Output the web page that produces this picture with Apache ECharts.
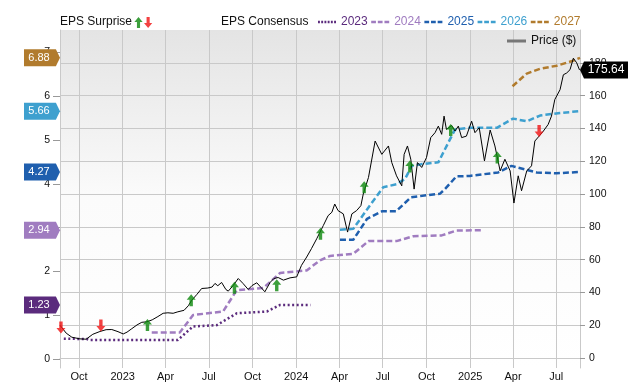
<!DOCTYPE html>
<html>
<head>
<meta charset="utf-8">
<script src="https://cdn.jsdelivr.net/npm/echarts@6/dist/echarts.min.js"></script>
<style>
html,body{margin:0;padding:0;background:#fff;}
#chart{width:640px;height:382px;}
</style>
</head>
<body>
<div id="chart"></div>
<script>
// ---------- data ----------
const xRange = ['2022-08-22', '2025-08-20'];
const tickDates = ['2022-10-01','2023-01-01','2023-04-01','2023-07-01','2023-10-01','2024-01-01','2024-04-01','2024-07-01','2024-10-01','2025-01-01','2025-04-01','2025-07-01'];
const epsTicks = [0, 1, 2, 3, 4, 5, 6, 7];
const priceTicks = [0, 20, 40, 60, 80, 100, 120, 140, 160, 180];
const epsRange = [-0.211, 7.516];
const priceRange = [-6.06, 200];

const price = [
 ['2022-08-22',20.0],['2022-09-04',15.2],['2022-09-16',12.7],['2022-10-03',11.7],['2022-10-16',11.5],
 ['2022-10-30',14.5],['2022-11-14',16.2],['2022-11-27',17.3],['2022-12-09',17.4],['2022-12-22',16.1],
 ['2023-01-02',14.7],['2023-01-10',15.8],['2023-01-20',17.9],['2023-01-31',20.2],['2023-02-10',21.8],
 ['2023-02-21',22.1],['2023-03-04',23.3],['2023-03-16',25.3],['2023-03-27',27.3],['2023-04-06',27.6],
 ['2023-04-17',27.3],['2023-04-27',28.2],['2023-05-10',29.1],['2023-05-19',31.9],['2023-05-26',35.2],
 ['2023-06-06',38.8],['2023-06-16',42.4],['2023-06-29',42.7],['2023-07-08',43.3],['2023-07-14',45.5],
 ['2023-07-20',44.1],['2023-07-28',46.1],['2023-08-06',41.8],['2023-08-11',40.8],['2023-08-21',44.1],
 ['2023-09-01',48.5],['2023-09-11',45.5],['2023-09-22',41.8],['2023-09-30',44.2],['2023-10-10',45.9],
 ['2023-10-19',43.0],['2023-10-27',40.4],['2023-11-07',46.1],['2023-11-15',48.5],['2023-11-24',49.1],
 ['2023-12-05',47.5],['2023-12-19',48.9],['2024-01-02',49.5],['2024-01-12',56.5],['2024-01-23',61.6],
 ['2024-02-02',66.7],['2024-02-13',72.7],['2024-02-27',80.8],['2024-03-08',86.8],['2024-03-16',88.9],
 ['2024-03-22',93.9],['2024-03-29',89.9],['2024-04-09',87.9],['2024-04-18',76.8],['2024-04-27',87.9],
 ['2024-05-07',89.9],['2024-05-16',92.9],['2024-05-21',100.0],['2024-06-01',110.1],['2024-06-15',132.3],
 ['2024-06-29',124.2],['2024-07-13',129.3],['2024-07-20',119.2],['2024-07-30',111.1],['2024-08-10',105.0],
 ['2024-08-15',124.2],['2024-08-22',129.3],['2024-08-29',121.2],['2024-09-05',103.0],['2024-09-12',119.2],
 ['2024-09-21',116.2],['2024-10-01',122.2],['2024-10-10',134.4],['2024-10-19',137.4],['2024-10-26',141.4],
 ['2024-11-02',136.4],['2024-11-07',147.5],['2024-11-12',139.4],['2024-11-23',141.8],['2024-11-30',138.4],
 ['2024-12-07',141.4],['2024-12-14',134.4],['2024-12-24',135.3],['2025-01-04',144.4],['2025-01-11',137.4],
 ['2025-01-20',140.4],['2025-01-31',120.2],['2025-02-12',139.0],['2025-02-22',129.3],['2025-03-05',114.1],
 ['2025-03-15',121.2],['2025-03-26',114.1],['2025-04-03',94.5],['2025-04-12',111.1],['2025-04-19',102.0],
 ['2025-04-30',114.1],['2025-05-10',117.2],['2025-05-17',132.3],['2025-05-26',135.3],['2025-06-04',138.4],
 ['2025-06-14',142.4],['2025-06-21',147.5],['2025-06-28',157.6],['2025-07-09',163.6],['2025-07-16',172.7],
 ['2025-07-23',173.8],['2025-07-30',175.8],['2025-08-06',182.8],['2025-08-13',180.0],['2025-08-19',175.64]
];

const eps2023 = [['2022-08-30',0.46],['2022-10-18',0.45],['2022-10-24',0.43],['2023-04-27',0.43],['2023-05-29',0.74],['2023-07-18',0.77],['2023-08-29',1.04],['2023-10-31',1.08],['2023-11-28',1.23],['2024-01-31',1.23]];
const eps2024 = [['2023-03-03',0.60],['2023-05-01',0.60],['2023-05-29',1.00],['2023-07-31',1.08],['2023-08-29',1.57],['2023-10-24',1.62],['2023-11-28',1.96],['2024-01-23',2.02],['2024-02-20',2.25],['2024-03-12',2.35],['2024-04-30',2.40],['2024-06-01',2.69],['2024-07-30',2.69],['2024-09-03',2.80],['2024-11-02',2.82],['2024-12-03',2.93],['2025-01-25',2.94]];
const eps2025 = [['2024-04-02',2.72],['2024-04-30',2.72],['2024-05-29',3.20],['2024-06-29',3.37],['2024-07-29',3.37],['2024-08-29',3.69],['2024-10-03',3.74],['2024-10-29',3.77],['2024-11-09',3.88],['2024-12-03',4.17],['2024-12-31',4.18],['2025-03-01',4.26],['2025-03-29',4.41],['2025-04-26',4.33],['2025-05-21',4.26],['2025-07-02',4.24],['2025-08-20',4.27]];
const eps2026 = [['2024-04-02',2.95],['2024-04-30',2.97],['2024-06-01',3.46],['2024-07-02',3.92],['2024-07-30',3.99],['2024-08-17',4.11],['2024-08-31',4.41],['2024-09-21',4.45],['2024-10-26',4.49],['2024-11-07',4.75],['2024-11-30',5.24],['2024-12-31',5.28],['2025-02-26',5.28],['2025-04-01',5.49],['2025-04-30',5.43],['2025-05-28',5.56],['2025-07-09',5.62],['2025-08-20',5.66]];
const eps2027 = [['2025-03-31',6.23],['2025-04-30',6.52],['2025-05-28',6.63],['2025-07-02',6.70],['2025-08-02',6.80],['2025-08-20',6.88]];

const surpriseBeat = [['2023-02-22',20.2],['2023-05-25',35.3],['2023-08-24',42.8],['2023-11-21',44.4],['2024-02-21',75.8],['2024-05-23',104.1],['2024-08-27',116.8],['2024-11-21',139.0],['2025-02-27',122.2]];
const surpriseMiss = [['2022-08-24',18.6],['2022-11-16',19.8],['2025-05-26',138.4]];

const yearNames = ['2023','2024','2025','2026','2027'];
const yearSeries = [eps2023, eps2024, eps2025, eps2026, eps2027];

// ---------- styles ----------
const yearColors = ['#5b2b7d','#a07cc0','#1f5fae','#3ea0cf','#b17b2d'];
const yearDash = [[2,2.5],[6,3],[6,3],[6,3],[6,3]];
const FONT = 'Liberation Sans, Arial, Helvetica, sans-serif';
const upArrow = 'path://M4.5,0L9,5.5L6.2,5.5L6.2,12L2.8,12L2.8,5.5L0,5.5Z';
const downArrow = 'path://M2.8,0L6.2,0L6.2,6.5L9,6.5L4.5,12L0,6.5L2.8,6.5Z';
const leftTag = 'path://M0,0L31,0L35,8L31,16L0,16Z';
const rightTag = 'path://M4,0L48,0L48,17L4,17L0,8.5Z';
const dashIcon = 'path://M0,0H5V2.5H0Z M7,0H12V2.5H7Z M14,0H19V2.5H14Z';
const dotIcon = 'path://M0,0H2V2.5H0Z M3.4,0H5.4V2.5H3.4Z M6.8,0H8.8V2.5H6.8Z M10.2,0H12.2V2.5H10.2Z M13.6,0H15.6V2.5H13.6Z M17,0H19V2.5H17Z';
const yearIcons = [dotIcon, dashIcon, dashIcon, dashIcon, dashIcon];
const monthNames = ['Jan','Feb','Mar','Apr','May','Jun','Jul','Aug','Sep','Oct','Nov','Dec'];

const ts = s => Date.parse(s + 'T00:00:00Z');
const toXY = arr => arr.map(p => [ts(p[0]), p[1]]);

const chart = echarts.init(document.getElementById('chart'), null, {renderer: 'canvas'});

const series = [];
yearNames.forEach((name, i) => {
  const d = yearSeries[i];
  const last = d[d.length - 1][1];
  series.push({
    name: name, type: 'line', xAxisIndex: 0, yAxisIndex: 0,
    data: toXY(d), symbol: 'none', showSymbol: false, z: 3,
    lineStyle: {color: yearColors[i], width: 2.5, type: yearDash[i]},
    itemStyle: {color: yearColors[i]},
    markPoint: {
      symbol: leftTag, symbolSize: [36, 17], symbolOffset: [-18, 0],
      itemStyle: {color: yearColors[i]}, z: 10, silent: true,
      label: {show: true, position: 'inside', offset: [-3, 0], color: '#fff', fontSize: 11, fontFamily: FONT,
        formatter: p => Number(p.value).toFixed(2)},
      data: [{coord: [ts(xRange[0]), last], value: last}]
    }
  });
});
const lastPrice = price[price.length - 1];
series.push({
  name: 'Price ($)', type: 'line', xAxisIndex: 0, yAxisIndex: 1,
  data: toXY(price), symbol: 'none', showSymbol: false, z: 4,
  lineStyle: {color: '#000', width: 1},
  itemStyle: {color: '#000'},
  markPoint: {
    symbol: rightTag, symbolSize: [48, 17], symbolOffset: [24, 0],
    itemStyle: {color: '#000'}, z: 10, silent: true,
    label: {show: true, position: 'inside', offset: [2, 0], color: '#fff', fontSize: 12, fontFamily: FONT,
      formatter: p => Number(p.value).toFixed(2)},
    data: [{coord: [ts(xRange[1]), lastPrice[1]], value: lastPrice[1]}]
  }
});
series.push({
  name: 'beat', type: 'scatter', xAxisIndex: 0, yAxisIndex: 1, z: 6,
  data: toXY(surpriseBeat), symbol: upArrow, symbolSize: [9, 12],
  itemStyle: {color: '#0b870b'}
});
series.push({
  name: 'miss', type: 'scatter', xAxisIndex: 0, yAxisIndex: 1, z: 6,
  data: toXY(surpriseMiss), symbol: downArrow, symbolSize: [9, 12],
  itemStyle: {color: '#f01212'}
});

const xTicks = tickDates.map(ts);

const option = {
  animation: false,
  backgroundColor: '#fff',
  textStyle: {fontFamily: FONT},
  title: [
    {text: 'EPS Surprise', left: 60, top: 16, padding: 0, textStyle: {fontSize: 12, fontWeight: 'normal', color: '#111', fontFamily: FONT}},
    {text: 'EPS Consensus', left: 221, top: 16, padding: 0, textStyle: {fontSize: 12, fontWeight: 'normal', color: '#111', fontFamily: FONT}}
  ],
  legend: [
    {
      left: 134, top: 17, padding: 0, itemWidth: 9, itemHeight: 11, itemGap: 1,
      selectedMode: false, formatter: () => '',
      data: [{name: 'beat', icon: upArrow}, {name: 'miss', icon: downArrow}]
    },
    {
      left: 318, top: 16, padding: 0, itemWidth: 18, itemHeight: 2.5, itemGap: 3.5,
      selectedMode: false, textStyle: {fontSize: 12, fontFamily: FONT},
      data: yearNames.map((n, i) => ({name: n, icon: yearIcons[i], itemStyle: {color: yearColors[i]}, textStyle: {color: yearColors[i]}}))
    },
    {
      left: 507, top: 35, padding: 0, itemWidth: 19, itemHeight: 3,
      selectedMode: false, textStyle: {fontSize: 12, color: '#111', fontFamily: FONT},
      data: [{name: 'Price ($)', icon: 'rect', itemStyle: {color: '#777'}}]
    }
  ],
  grid: {
    left: 60, right: 60, top: 30, bottom: 12, show: true, borderWidth: 0,
    backgroundColor: new echarts.graphic.LinearGradient(0, 0, 0, 1, [
      {offset: 0, color: '#e4e4e4'}, {offset: 0.5, color: '#fbfbfb'}, {offset: 1, color: '#ffffff'}
    ])
  },
  xAxis: [
    {
      type: 'value', min: ts(xRange[0]), max: ts(xRange[1]), position: 'bottom',
      axisLine: {show: false}, axisTick: {show: false, customValues: xTicks},
      splitLine: {show: true, lineStyle: {color: '#c9c9c9', width: 1}},
      axisLabel: {customValues: xTicks, margin: 3, fontSize: 11, color: '#111', fontFamily: FONT, hideOverlap: false,
        formatter: v => { const d = new Date(v); return d.getUTCMonth() === 0 ? String(d.getUTCFullYear()) : monthNames[d.getUTCMonth()]; }}
    },
    {
      type: 'value', min: ts(xRange[0]), max: ts(xRange[1]), position: 'top',
      axisLine: {show: true, lineStyle: {color: '#c9c9c9', width: 1}},
      axisTick: {show: false}, axisLabel: {show: false}, splitLine: {show: false}
    }
  ],
  yAxis: [
    {
      type: 'value', position: 'left', min: epsRange[0], max: epsRange[1],
      axisLine: {show: true, lineStyle: {color: '#c9c9c9', width: 1}},
      axisTick: {show: true, length: 7, customValues: epsTicks, lineStyle: {color: '#999'}},
      axisLabel: {customValues: epsTicks, margin: 10, fontSize: 10.5, color: '#111', fontFamily: FONT},
      splitLine: {show: false}
    },
    {
      type: 'value', position: 'right', min: priceRange[0], max: priceRange[1],
      axisLine: {show: true, lineStyle: {color: '#c9c9c9', width: 1}},
      axisTick: {show: true, length: 5, customValues: priceTicks, lineStyle: {color: '#999'}},
      axisLabel: {customValues: priceTicks, margin: 9, fontSize: 10.5, color: '#111', fontFamily: FONT},
      splitLine: {show: true, lineStyle: {color: '#c9c9c9', width: 1}}
    }
  ],
  series: series
};
chart.setOption(option);
</script>
</body>
</html>
